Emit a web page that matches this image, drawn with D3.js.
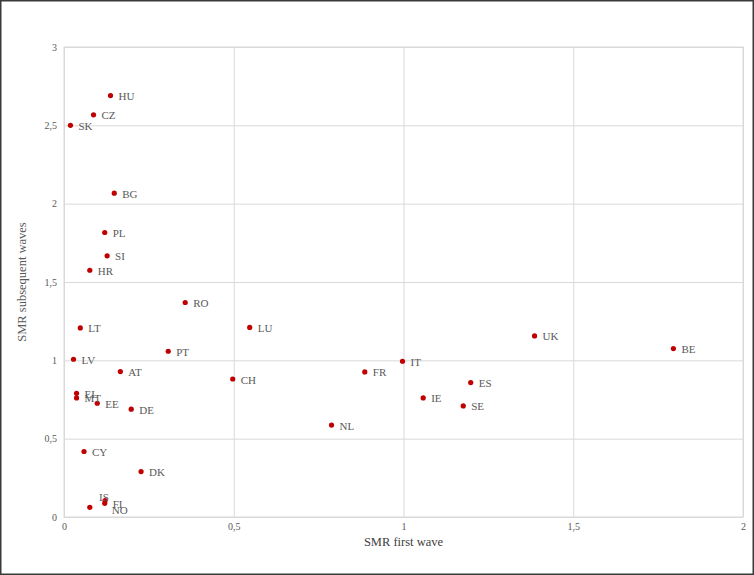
<!DOCTYPE html>
<html>
<head>
<meta charset="utf-8">
<script src="https://cdn.jsdelivr.net/npm/d3@7/dist/d3.min.js"></script>
<style>
html,body{margin:0;padding:0;background:#fff;}
svg{display:block;}
</style>
</head>
<body>
<svg id="chart" width="754" height="575"></svg>
<script>
const countries = ["HU","CZ","SK","BG","PL","SI","HR","RO","LT","LU","PT","LV","AT","CH","EL","MT","EE","DE","CY","DK","IS","FI","NO","UK","IT","FR","ES","IE","SE","NL","BE"];
const firstWave = [0.137,0.087,0.019,0.148,0.120,0.127,0.076,0.357,0.048,0.547,0.307,0.028,0.166,0.497,0.037,0.037,0.098,0.198,0.059,0.227,0.121,0.120,0.076,1.386,0.997,0.886,1.198,1.058,1.176,0.788,1.795];
const subsequentWaves = [2.69,2.567,2.50,2.067,1.816,1.667,1.575,1.369,1.207,1.21,1.058,1.007,0.928,0.881,0.79,0.76,0.726,0.688,0.418,0.29,0.105,0.087,0.062,1.156,0.994,0.926,0.858,0.76,0.709,0.587,1.075];
const xTicks = [0,0.5,1,1.5,2];
const yTicks = [0,0.5,1,1.5,2,2.5,3];

// label placement tweaks (style, not data)
const labelShift = {IS:[-14,-4], NO:[14,2]};

const svg = d3.select("#chart");
const W = 754, H = 575;
const m = {left:64, right:11, top:47, bottom:58};
const x = d3.scaleLinear().domain([0,2]).range([m.left, W-m.right]);
const y = d3.scaleLinear().domain([0,3]).range([H-m.bottom, m.top]);
const fmt = d => String(d).replace(".", ",");
const font = "'Liberation Serif','Times New Roman',serif";
const grey = "#595959";

// outer frame
svg.append("rect").attr("x",0.75).attr("y",0.75).attr("width",W-1.5).attr("height",H-1.5)
  .attr("fill","#fff").attr("stroke","#3a3a3a").attr("stroke-width",1.5);

// gridlines
const gx = svg.append("g").attr("transform",`translate(0,${y(0)})`)
  .call(d3.axisBottom(x).tickValues(xTicks).tickSize(-(y(0)-y(3))).tickFormat(fmt).tickPadding(6));
const gy = svg.append("g").attr("transform",`translate(${x(0)},0)`)
  .call(d3.axisLeft(y).tickValues(yTicks).tickSize(-(x(2)-x(0))).tickFormat(fmt).tickPadding(7));
[gx,gy].forEach(g=>{
  g.select(".domain").remove();
  g.selectAll(".tick line").attr("stroke","#d9d9d9").attr("stroke-width",1);
  g.selectAll(".tick text").attr("fill",grey).attr("font-family",font).attr("font-size","10px");
});
// plot border
svg.append("rect").attr("x",x(0)).attr("y",y(3)).attr("width",x(2)-x(0)).attr("height",y(0)-y(3))
  .attr("fill","none").attr("stroke","#d9d9d9").attr("stroke-width",1);

const pts = countries.map((c,i)=>({c, vx:firstWave[i], vy:subsequentWaves[i]}));

svg.append("g").selectAll("circle").data(pts).join("circle")
  .attr("cx",d=>x(d.vx)).attr("cy",d=>y(d.vy)).attr("r",2.6).attr("fill","#c00000");

svg.append("g").selectAll("text").data(pts).join("text")
  .attr("x",d=>x(d.vx)+8+((labelShift[d.c]||[0,0])[0]))
  .attr("y",d=>y(d.vy)+2+((labelShift[d.c]||[0,0])[1]))
  .attr("dominant-baseline","middle")
  .attr("font-family",font).attr("font-size","11px").attr("fill",grey)
  .text(d=>d.c);

// axis titles
svg.append("text").attr("x",(x(0)+x(2))/2).attr("y",546).attr("text-anchor","middle")
  .attr("font-family",font).attr("font-size","12.5px").attr("fill","#404040").text("SMR first wave");
svg.append("text").attr("transform",`translate(26,${(y(0)+y(3))/2}) rotate(-90)`).attr("text-anchor","middle")
  .attr("font-family",font).attr("font-size","12.5px").attr("fill",grey).text("SMR subsequent waves");
</script>
</body>
</html>
